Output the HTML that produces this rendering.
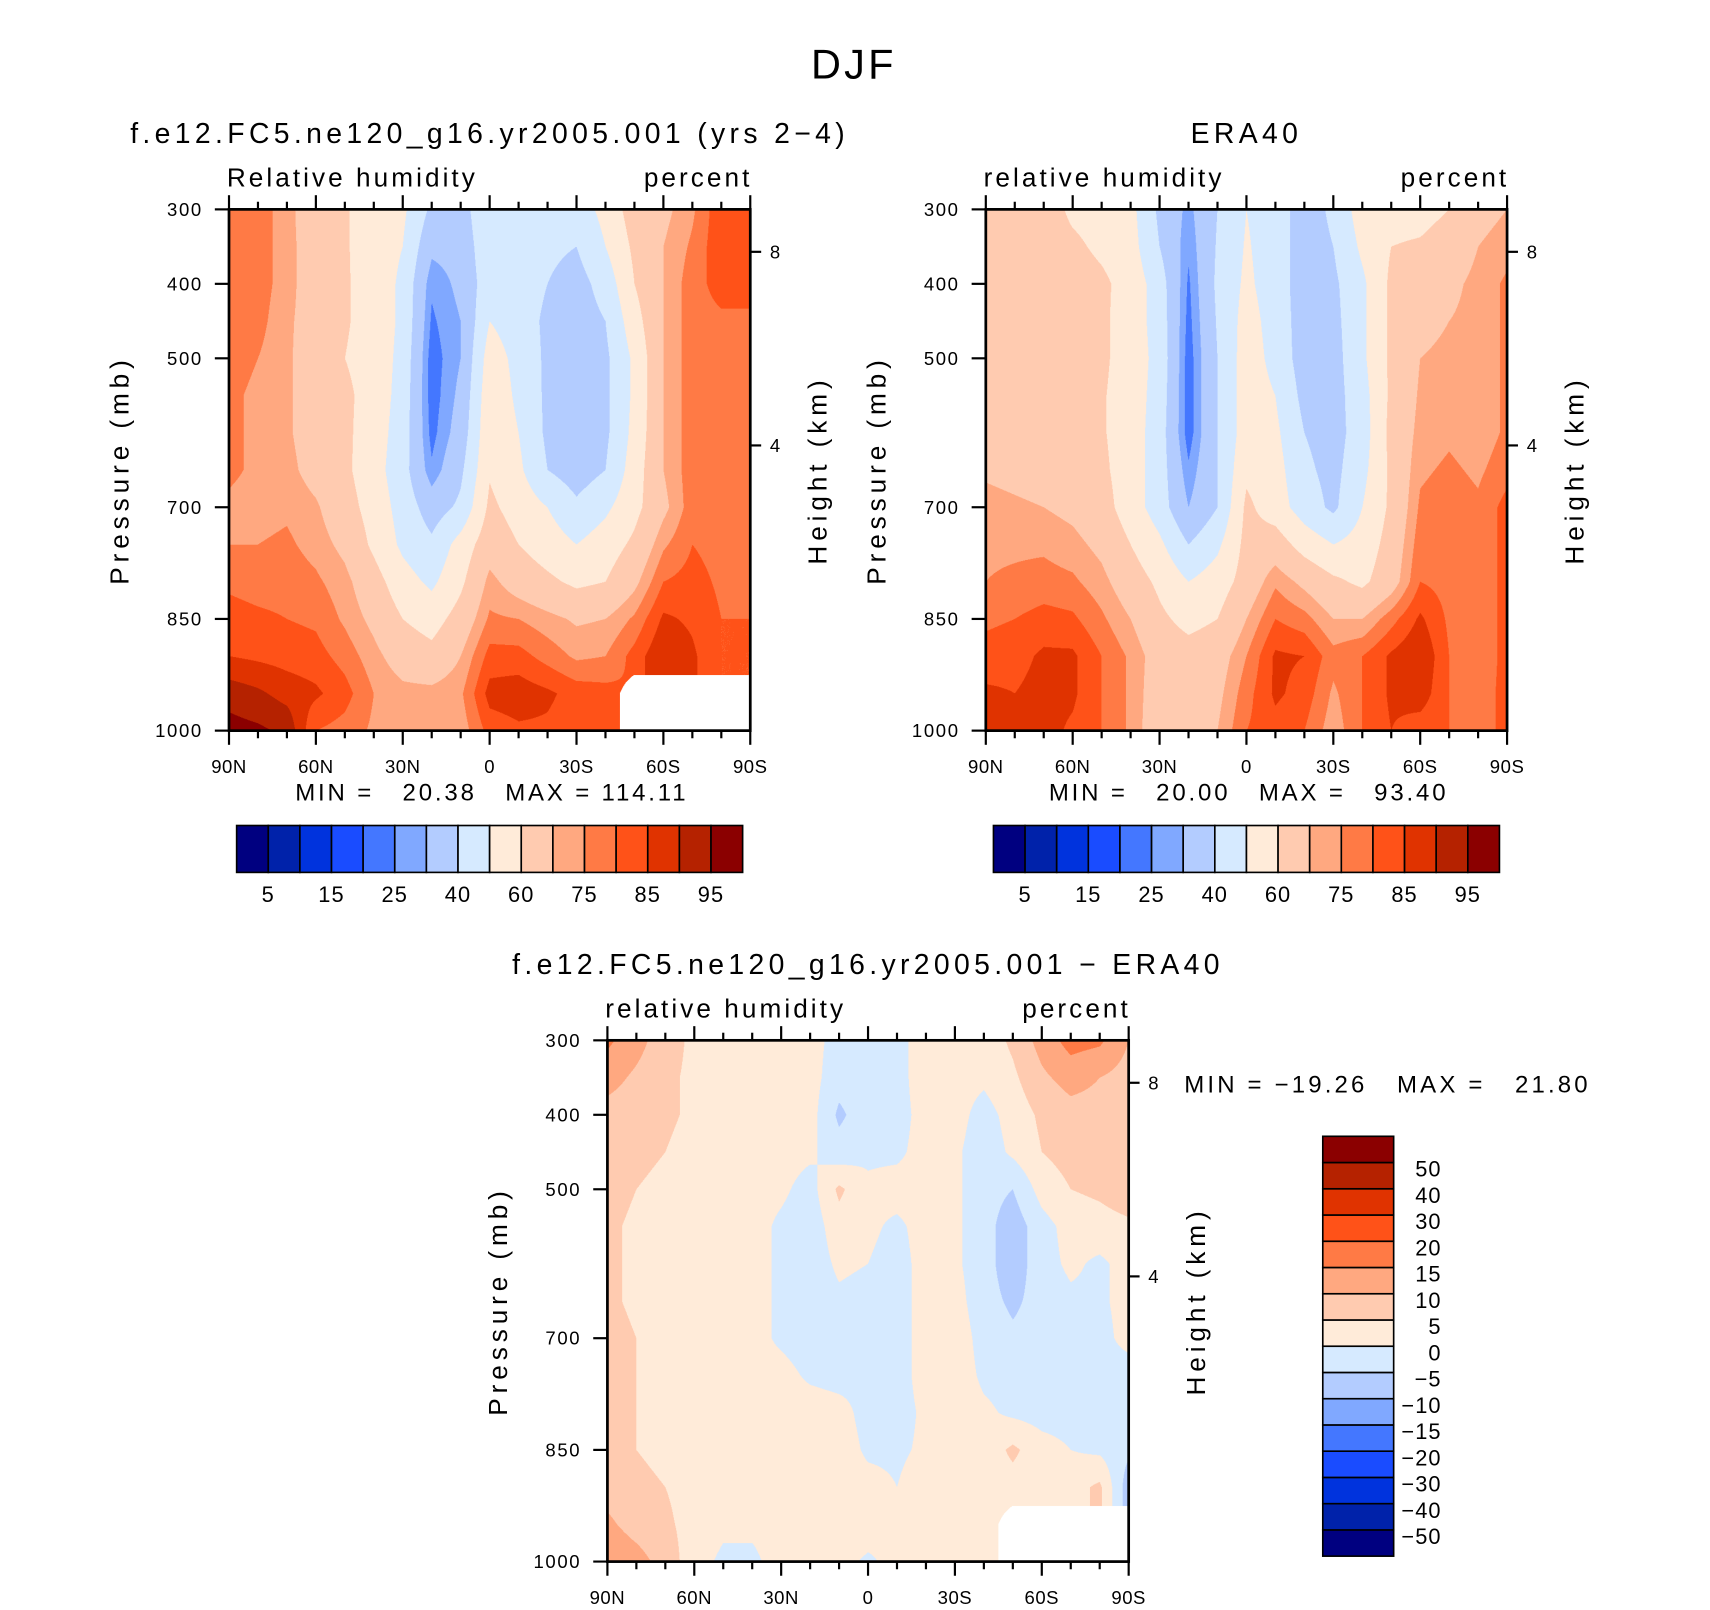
<!DOCTYPE html>
<html><head><meta charset="utf-8">
<style>
html,body{margin:0;padding:0;background:#fff;}
#page{width:1710px;height:1610px;overflow:hidden;position:relative;}
#wrap{position:absolute;left:0;top:0;width:1568px;height:1476px;transform:scale(1.0905);transform-origin:0 0;}
canvas{position:absolute;}
svg{position:absolute;left:0;top:0;}
text{font-family:"Liberation Sans",sans-serif;fill:#000;white-space:pre;}
</style></head>
<body>
<div id="page">
<div id="wrap">
<canvas id="c1"></canvas>
<canvas id="c2"></canvas>
<canvas id="c3"></canvas>
<svg id="svg" width="1568" height="1476" viewBox="0 0 1568 1476"></svg>
</div></div>
<script>
const lats=[90,80,70,60,50,40,30,20,10,0,-10,-20,-30,-40,-50,-60,-70,-80,-90];
const levels=[300,350,400,450,500,550,600,650,700,750,800,850,900,950,1000];
const xTickLabels=['90N','60N','30N','0','30S','60S','90S'];
const xTickVals=[90,60,30,0,-30,-60,-90];
const yTickVals=[300,400,500,700,850,1000];
const kmTickLabels=['8','4'];
const kmTickPress=[357,617];
const colors=['#000080','#0022aa','#0033dd','#1a4cff','#4477ff','#80a8ff','#b3ccff','#d6eaff','#ffebd9','#ffcbb0','#ffa880','#ff7a45','#ff5218','#e03300','#b52200','#8b0000'];
const rhLevels=[5,10,15,20,25,30,40,50,60,70,75,80,85,90,95];
const rhLabels=['5','15','25','40','60','75','85','95'];
const difLevels=[-50,-40,-30,-20,-15,-10,-5,0,5,10,15,20,30,40,50];
const N=null;
const model=[
[78,78,72,65,61,55,52,38,35,50,45,45,45,53,65,68,74,84,80],
[78,78,72,66,61,55,50,32,33,48,45,42,40,50,62,70,76,84,82],
[77,78,72,66,61,56,48,26,32,46,45,40,36,44,60,70,78,82,80],
[77,77,71,67,61,56,48,24,30,50,45,38,35,40,56,70,78,79,80],
[77,75,71,66,60,56,47,22,30,55,47,38,34,38,52,70,78,79,80],
[76,74,71,66,62,56,46,22,32,57,48,38,34,38,52,70,78,79,80],
[76,74,71,66,62,55,45,23,34,58,50,38,34,38,53,70,78,79,80],
[76,74,72,67,62,54,44,26,38,59,52,40,35,40,55,70,78,79,80],
[74,73,74,71,64,56,46,35,42,62,56,50,42,48,57,68,78,78,78],
[75,75,76,73,68,58,48,42,54,66,60,55,50,55,62,74,80,78,78],
[79,78,78,76,72,64,54,48,58,72,66,62,58,60,68,80,82,79,79],
[82,81,80,79,74,68,60,56,64,76,75,72,69,70,76,86,84,80,80],
[85,84,83,82,78,72,66,63,70,82,82,78,74,75,82,90,86,80,80],
[93,91,88,86,82,75,72,72,74,87,88,86,83,82,N,N,N,N,N],
[97,96,94,80,78,74,72,72,72,82,84,84,82,80,N,N,N,N,N]];
const era=[
[65,65,65,58,56,53,38,28,40,50,45,35,42,55,57,57,60,67,70],
[65,65,65,62,58,54,40,26,41,51,45,35,40,52,60,61,64,70,73],
[65,65,65,65,62,56,45,24,42,52,45,35,38,48,62,65,68,72,76],
[65,65,65,65,62,55,46,23,41,54,46,35,37,48,62,67,70,72,76],
[65,65,65,65,62,55,47,22,40,55,47,35,36,48,62,70,72,72,76],
[66,65,65,64,61,55,46,22,40,55,50,37,36,46,62,71,73,72,76],
[66,65,65,64,61,55,45,22,40,55,52,40,36,45,63,72,74,72,76],
[69,68,67,66,62,55,45,26,40,58,54,42,37,47,62,74,76,74,78],
[72,71,70,68,64,55,45,30,40,62,55,45,38,50,62,76,78,76,82],
[74,74,74,72,68,60,52,40,48,63,65,56,50,54,64,78,78,76,82],
[75,76,77,76,72,65,58,50,55,64,74,68,62,58,66,80,78,76,82],
[79,80,82,81,76,70,62,57,60,70,80,77,70,70,78,86,79,76,82],
[82,83,86,86,80,74,66,64,66,75,86,85,77,80,86,90,80,76,82],
[86,85,87,86,80,74,65,64,68,78,86,83,74,80,86,88,80,77,82],
[90,87,87,84,80,74,64,64,70,80,83,80,72,80,85,82,80,77,82]];
const diff=[
[16,12,7,4,3,3,2,2,-2,-2,-2,3,3,2,6,12,17,16,10],
[12,9,6,4,3,3,2,2,-3,-2,-2,3,2,1,4,9,12,10,8],
[8,7,6,4,3,3,2,2,-6,-2,-2,2,2,-2,2,6,8,8,8],
[7,6,5,3,3,2,2,1,-3,-1,-1,2,1,-3,1,5,7,6,6],
[7,5,4,3,3,2,1,-2,6,1,2,2,1,-3,-5,2,5,6,8],
[6,4,4,3,2,2,-1,-3,3,1,-1,2,1,-3,-8,-2,2,3,4],
[6,4,3,2,2,2,-1,-3,1,0,-2,2,1,-3,-8,-2,1,-1,2],
[6,4,3,2,2,2,-1,-3,-1,-2,-2,2,2,-3,-6,-3,-1,-1,2],
[7,5,3,2,2,2,-1,-3,-2,-2,-2,2,3,-2,-4,-3,-2,-2,2],
[7,5,3,2,2,2,2,-1,-2,-1,-2,2,3,-1,-2,-2,-2,-2,-3],
[7,5,4,3,2,2,3,3,2,-2,-2,1,3,1,-1,-2,-2,-2,-3],
[6,5,4,3,4,3,5,4,3,-1,-1,1,3,2,6,2,0,-1,-4],
[8,6,5,3,2,1,3,3,3,2,0,3,5,3,3,2,3,6,-8],
[11,8,6,3,1,1,2,2,4,3,1,3,4,2,N,N,N,N,N],
[14,12,8,2,-1,-1,2,3,2,-1,2,5,2,2,N,N,N,N,N]];

const NS='http://www.w3.org/2000/svg';
const svg=document.getElementById('svg');
function el(tag,attrs,parent){const e=document.createElementNS(NS,tag);for(const k in attrs)e.setAttribute(k,attrs[k]);(parent||svg).appendChild(e);return e;}
function txt(s,x,y,size,anchor,name,parent,ls){const t=el('text',{x:x,y:y,'font-size':size,'text-anchor':anchor||'start'},parent);if(ls)t.setAttribute('letter-spacing',ls);t.textContent=s;return t;}

function sample(grid,lat,p){
  const fi=(90-lat)/10, fj=(p-300)/50;
  const i0=Math.min(Math.floor(fi),17), j0=Math.min(Math.floor(fj),13);
  const a=fi-i0, b=fj-j0;
  const corners=[[grid[j0][i0],(1-a)*(1-b)],[grid[j0][i0+1],a*(1-b)],[grid[j0+1][i0],(1-a)*b],[grid[j0+1][i0+1],a*b]];
  let s=0,w=0,nw=0;
  for(const [v,wt] of corners){if(v===null)nw+=wt;else{s+=v*wt;w+=wt;}}
  if(nw>0.5)return null;
  return s/w;
}
function colorIdx(v,lv){let k=0;for(const t of lv)if(v>=t)k++;return k;}

function panel(cid,grid,lv,x0,y0,W,H,opt){
  const c=document.getElementById(cid);
  const S=2;
  c.width=W*S;c.height=H*S;c.style.left=x0+'px';c.style.top=y0+'px';c.style.width=W+'px';c.style.height=H+'px';
  const ctx=c.getContext('2d');
  for(let px=0;px<W*S;px++){
    const lat=90-180*(px+0.5)/(W*S);
    for(let py=0;py<H*S;py++){
      const p=300+700*(py+0.5)/(H*S);
      const v=sample(grid,lat,p);
      ctx.fillStyle=v===null?'#ffffff':colors[colorIdx(v,lv)];
      ctx.fillRect(px,py,1,1);
    }
  }
  const xs=lat=>x0+(90-lat)/180*W;
  const ys=p=>y0+(p-300)/700*H;
  const g=el('g',{});
  
  
  el('rect',{x:x0,y:y0,width:W,height:H,fill:'none',stroke:'#000','stroke-width':2.5},g);
  for(let lat=90;lat>=-90;lat-=10){
    const major=lat%30===0;const L=major?13:7;
    el('line',{x1:xs(lat),x2:xs(lat),y1:y0,y2:y0-L,stroke:'#000','stroke-width':2},g);
    el('line',{x1:xs(lat),x2:xs(lat),y1:y0+H,y2:y0+H+L,stroke:'#000','stroke-width':2},g);
  }
  xTickVals.forEach((v,i)=>txt(xTickLabels[i],xs(v),y0+H+39,17,'middle','x-tick-label',g,0.5));
  yTickVals.forEach(v=>{
    el('line',{x1:x0,x2:x0-13,y1:ys(v),y2:ys(v),stroke:'#000','stroke-width':2},g);
    txt(String(v),x0-24,ys(v)+6,17,'end','y-tick-label',g,1.5);
  });
  kmTickPress.forEach((p,i)=>{
    el('line',{x1:x0+W,x2:x0+W+10,y1:ys(p),y2:ys(p),stroke:'#000','stroke-width':2},g);
    txt(kmTickLabels[i],x0+W+18,ys(p)+6,17,'start','height-tick-label',g);
  });
  const yl=txt('Pressure (mb)',0,0,24,'middle','y-axis-title',g,4.5);
  yl.setAttribute('transform',`translate(${x0-92},${y0+H/2}) rotate(-90)`);
  const hl=txt('Height (km)',0,0,24,'middle','height-axis-title',g,4.5);
  hl.setAttribute('transform',`translate(${x0+W+70},${y0+H/2}) rotate(-90)`);
  txt(opt.left,x0-2,y0-21,24,'start','variable-label',g,2.8);
  txt('percent',x0+W+2,y0-21,24,'end','units-label',g,2.8);
  txt(opt.title,x0+W/2,y0-61,26,'middle','panel-title',g,4);
}

txt('DJF',783,72,38,'middle','figure-title',null,3);
panel('c1',model,rhLevels,210,192,478,478,{name:'model',left:'Relative humidity',title:'f.e12.FC5.ne120_g16.yr2005.001 (yrs 2\u22124)'});
panel('c2',era,rhLevels,904,192,478,478,{name:'era40',left:'relative humidity',title:'ERA40'});
panel('c3',diff,difLevels,557,954,478,478,{name:'difference',left:'relative humidity',title:'f.e12.FC5.ne120_g16.yr2005.001 \u2212 ERA40'});

txt('MIN =   20.38   MAX = 114.11',451,734,22,'middle','model-min-max',null,2.6);
txt('MIN =   20.00   MAX =   93.40',1145,734,22,'middle','era40-min-max',null,2.6);
txt('MIN = \u221219.26   MAX =   21.80',1086,1002,22,'start','difference-min-max',null,2.9);

function hbar(x0,y0,W,H,name){
  const g=el('g',{});
  
  
  const bw=W/colors.length;
  colors.forEach((c,i)=>el('rect',{x:x0+i*bw,y:y0,width:bw,height:H,fill:c,stroke:'#000','stroke-width':1.5},g));
  rhLabels.forEach((s,k)=>txt(s,x0+(2*k+1)*bw,y0+H+27,20,'middle','colorbar-label',g,1));
}
hbar(217,757,464,43,'model-colorbar');
hbar(911,757,464,43,'era40-colorbar');
(function(){
  const x0=1213,y0=1042,W=65,H=385;
  const g=el('g',{});
  
  
  const bh=H/colors.length;
  colors.forEach((c,i)=>el('rect',{x:x0,y:y0+(colors.length-1-i)*bh,width:W,height:bh,fill:c,stroke:'#000','stroke-width':1.5},g));
  difLevels.forEach((v,i)=>{
    const s=v<0?'\u2212'+Math.abs(v):String(v);
    txt(s,1322,y0+(colors.length-1-i)*bh+7+6,20,'end','colorbar-label',g,1);
  });
})();
</script>
</body></html>
